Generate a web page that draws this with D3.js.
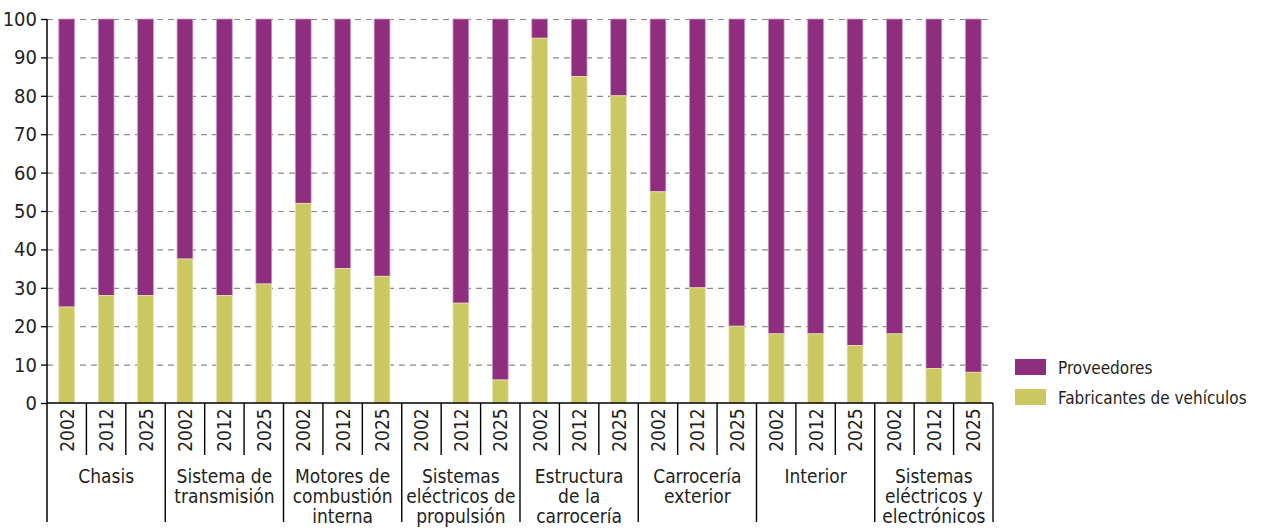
<!DOCTYPE html>
<html><head><meta charset="utf-8">
<script src="https://cdn.jsdelivr.net/npm/d3@7"></script>
<style>
body{margin:0;background:#fff;}
text{font-family:"Liberation Sans Narrow","DejaVu Sans Condensed","DejaVu Sans",sans-serif;font-stretch:condensed;fill:#231f20;}
</style></head>
<body><svg id="c" width="1262" height="528"></svg>
<script>
const groups = [["Chasis"],["Sistema de","transmisión"],["Motores de","combustión","interna"],["Sistemas","eléctricos de","propulsión"],["Estructura","de la","carrocería"],["Carrocería","exterior"],["Interior"],["Sistemas","eléctricos y","electrónicos"]];
const years = ["2002","2012","2025"];
const fabricantes = [25,28,28, 37.5,28,31, 52,35,33, null,26,6, 95,85,80, 55,30,20, 18,18,15, 18,9,8];
const proveedores = fabricantes.map(v => v==null ? null : 100 - v);
const yTicks = [0,10,20,30,40,50,60,70,80,90,100];
const seriesNames = ["Proveedores","Fabricantes de vehículos"];
const colors = ["#8f2d7e","#cbc862"];

const svg = d3.select("#c");
const m = {l:47, r:993, t:19, b:403};
const slots = [];
groups.forEach((g,gi)=>years.forEach((yr,yi)=>slots.push(gi+"-"+yi)));
const x = d3.scaleBand().domain(slots).range([m.l,m.r]).paddingInner(0.6).paddingOuter(0.3);
const xs = d3.scaleBand().domain(slots).range([m.l,m.r]);
const y = d3.scaleLinear().domain([0,100]).range([m.b,m.t]);

// grid
svg.append("g").selectAll("line").data(yTicks.filter(t=>t>0)).join("line")
  .attr("x1",m.l).attr("x2",m.r).attr("y1",d=>y(d)+0.5).attr("y2",d=>y(d)+0.5)
  .attr("stroke","#8a8a8a").attr("stroke-width",1.2).attr("stroke-dasharray","6,5");

// bars
const bars = svg.append("g");
slots.forEach((s,i)=>{
  const f = fabricantes[i];
  if(f==null) return;
  bars.append("rect").attr("x",x(s)).attr("width",x.bandwidth())
    .attr("y",y(100)).attr("height",y(100-proveedores[i])-y(100)).attr("fill",colors[0])
    .attr("stroke","#c89bc0").attr("stroke-width",0.8);
  bars.append("rect").attr("x",x(s)).attr("width",x.bandwidth())
    .attr("y",y(f)).attr("height",y(0)-y(f)).attr("fill",colors[1])
    .attr("stroke","#e6e4b8").attr("stroke-width",0.8);
});

// y axis
const ya = svg.append("g").attr("transform",`translate(${m.l},0)`)
  .call(d3.axisLeft(y).tickValues(yTicks).tickSize(6).tickPadding(4));
ya.attr("font-family",null).attr("font-size",null);
ya.select(".domain").remove();
ya.selectAll("line").attr("stroke","#000").attr("stroke-width",1.3);
ya.selectAll("text").style("font-size","20px").attr("fill","#231f20");
svg.append("line").attr("x1",m.l).attr("x2",m.l).attr("y1",m.t).attr("y2",522).attr("stroke","#000").attr("stroke-width",1.5);
svg.append("line").attr("x1",m.l).attr("x2",m.r).attr("y1",m.b).attr("y2",m.b).attr("stroke","#000").attr("stroke-width",1.5);

// year separators and labels
slots.forEach((s,i)=>{
  const xe = xs(s)+xs.bandwidth();
  const isGroupEnd = (i%3===2);
  svg.append("line").attr("x1",xe).attr("x2",xe).attr("y1",m.b).attr("y2",isGroupEnd?522:455)
    .attr("stroke","#000").attr("stroke-width",1.4);
  const cx = xs(s)+xs.bandwidth()/2;
  svg.append("text").attr("transform",`translate(${cx+7},430) rotate(-90)`)
    .attr("text-anchor","middle").style("font-size","19px").text(years[i%3]);
});

// group labels
groups.forEach((g,gi)=>{
  const cx = (xs(gi+"-0") + xs(gi+"-2") + xs.bandwidth())/2;
  const t = svg.append("text").attr("text-anchor","middle").style("font-size","19px");
  g.forEach((line,li)=>t.append("tspan").attr("x",cx).attr("y",483+li*20).text(line));
});

// legend
const lg = svg.append("g");
seriesNames.forEach((n,i)=>{
  lg.append("rect").attr("x",1015).attr("y",359+i*30).attr("width",31).attr("height",16).attr("fill",colors[i]);
  lg.append("text").attr("x",1058).attr("y",374+i*30).style("font-size","17px").text(n);
});
</script></body></html>
